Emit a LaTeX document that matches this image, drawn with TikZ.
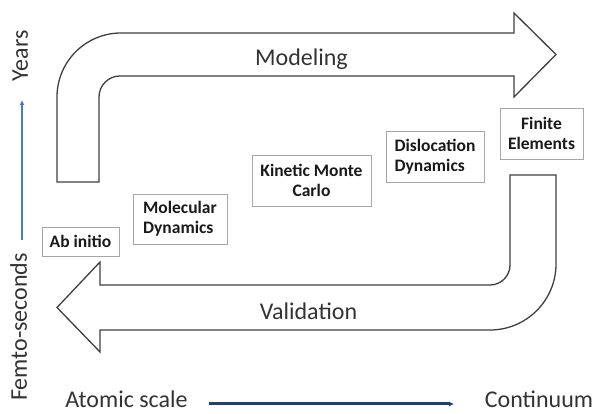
\documentclass[tikz,border=0pt]{standalone}
\usepackage{fontspec}
\setmainfont{Carlito}
\usetikzlibrary{arrows.meta}
\definecolor{framegray}{HTML}{A6A6A6}
\definecolor{edgegray}{HTML}{3F3F3F}
\definecolor{timeblue}{HTML}{4A7EBB}
\definecolor{scalenavy}{HTML}{1F3F77}
\begin{document}
\begin{tikzpicture}[x=1pt, y=1pt,
    method/.style={draw=framegray, line width=0.8pt, fill=white, align=center,
                   inner sep=0pt, text=black!90,
                   font=\bfseries\fontsize{17.5}{20}\selectfont},
    bigarrow/.style={draw=edgegray, line width=1.3pt, fill=white, line join=miter},
    axislbl/.style={text=black!80, inner sep=0pt, font=\fontsize{24}{28}\selectfont},
    axisarr/.style={-{Latex[length=5pt,width=5pt]}, line width=2.6pt}
]
\useasboundingbox (0,0) rectangle (597,414);

% block arrows
\draw[bigarrow] (57,232) -- (57,317) arc[start angle=180, end angle=90, radius=64]
    -- (514,381) -- (514,401) -- (556,359.5) -- (514,317) -- (514,338) -- (120,338)
    arc[start angle=90, end angle=180, radius=21] -- (99,232) -- cycle;
\draw[bigarrow] (510,239) -- (556,239) -- (556,150) arc[start angle=0, end angle=-90, radius=66]
    -- (100,84) -- (100,62) -- (57,106.5) -- (100,152) -- (100,129) -- (490,129)
    arc[start angle=-90, end angle=0, radius=20] -- cycle;

\node[method, minimum width=77pt, minimum height=29pt] (abi) at (80.5,172.5) {Ab initio};
\node[method, align=left, minimum width=94pt, minimum height=50pt] (md) at (180,195) {Molecular\\Dynamics};
\node[method, minimum width=119pt, minimum height=51pt] (kmc) at (311.5,233.5) {Kinetic Monte\\Carlo};
\node[method, align=left, minimum width=98pt, minimum height=51pt] (dd) at (435,257.5) {Dislocation\\Dynamics};
\node[method, minimum width=83pt, minimum height=51pt] (fe) at (541.5,280.5) {Finite\\Elements};

\node[axislbl, anchor=base] (modl) at (301.5,348) {Modeling};
\node[axislbl, anchor=base] (valid) at (308.5,94) {Validation};

% axes
\node[axislbl, rotate=90, anchor=base] (years) at (28,358) {Years};
\node[axislbl, rotate=90, anchor=base] (femto) at (27,87) {Femto-seconds};
\node[axislbl, anchor=base] (atomic) at (126.5,6) {Atomic scale};
\node[axislbl, anchor=base] (cont) at (539,6) {Continuum};
\coordinate (tlow) at (22,174);
\coordinate (thigh) at (22,314);
\coordinate (satom) at (209,10);
\coordinate (scont) at (454,10);
\draw[axisarr, timeblue] (tlow) -- (thigh);
\draw[axisarr, scalenavy, line width=3pt] (satom) -- (scont);
\end{tikzpicture}
\end{document}
